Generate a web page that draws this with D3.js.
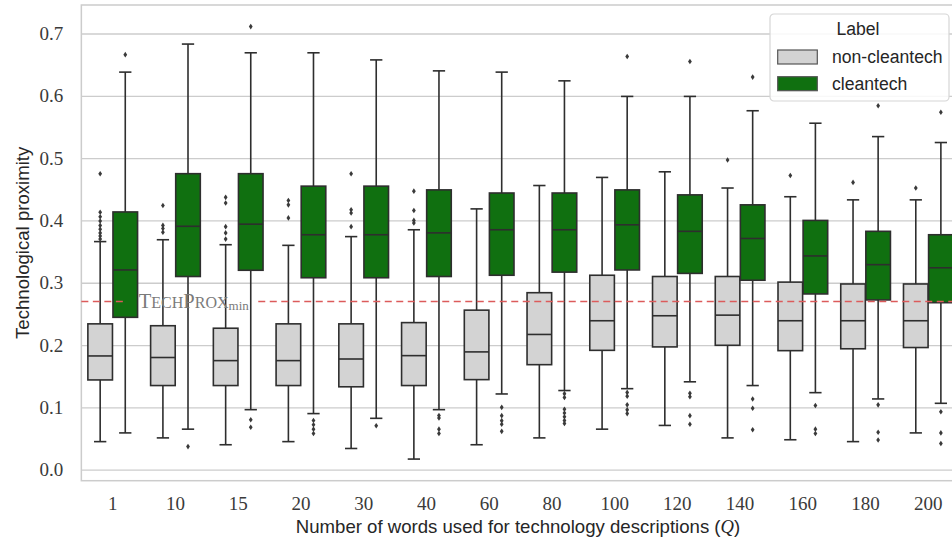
<!DOCTYPE html>
<html>
<head>
<meta charset="utf-8">
<script src="https://cdn.jsdelivr.net/npm/d3@7"></script>
<style>
  body { margin: 0; background: #fff; }
  svg { display: block; }
  .axis text { font-family: "Liberation Serif", serif; font-size: 19px; fill: #3a3a3a; }
  .axis-label { font-family: "Liberation Sans", sans-serif; font-size: 18.6px; fill: #262626; }
  .legend text { font-family: "Liberation Sans", sans-serif; font-size: 17.6px; fill: #262626; }
</style>
</head>
<body>
<svg id="chart"></svg>
<script>
// categories (number of words Q) and hue labels
const categories = ["1", "10", "15", "20", "30", "40", "60", "80", "100", "120", "140", "160", "180", "200"];
const labels = ["non-cleantech", "cleantech"];
const yTicks = [0.0, 0.1, 0.2, 0.3, 0.4, 0.5, 0.6, 0.7];
const techProxMin = 0.27;

// non-cleantech boxes
const grayWhiskLow  = [0.045, 0.051, 0.040, 0.045, 0.034, 0.017, 0.040, 0.051, 0.065, 0.071, 0.051, 0.048, 0.045, 0.059];
const grayQ1        = [0.144, 0.135, 0.135, 0.135, 0.133, 0.135, 0.1445, 0.1685, 0.1915, 0.197, 0.1996, 0.191, 0.194, 0.196];
const grayMedian    = [0.1825, 0.180, 0.175, 0.175, 0.1776, 0.183, 0.189, 0.217, 0.239, 0.247, 0.248, 0.239, 0.239, 0.239];
const grayQ3        = [0.234, 0.231, 0.227, 0.234, 0.234, 0.236, 0.256, 0.284, 0.312, 0.310, 0.310, 0.301, 0.298, 0.298];
const grayWhiskHigh = [0.366, 0.369, 0.361, 0.360, 0.374, 0.385, 0.4185, 0.456, 0.469, 0.478, 0.452, 0.438, 0.433, 0.433];
const grayOutliers  = [
  [0.475, 0.413, 0.406, 0.399, 0.392, 0.386, 0.380, 0.375, 0.370],
  [0.424, 0.392, 0.387, 0.381],
  [0.437, 0.428, 0.390, 0.380, 0.370],
  [0.432, 0.425, 0.404],
  [0.475, 0.417, 0.412, 0.390],
  [0.447, 0.416, 0.400, 0.396],
  [], [], [], [],
  [0.497],
  [0.472],
  [0.461],
  [0.452]
];

// cleantech boxes
const greenWhiskLow  = [0.059, 0.065, 0.0963, 0.090, 0.0824, 0.0963, 0.1215, 0.127, 0.130, 0.141, 0.135, 0.1236, 0.1135, 0.1065];
const greenQ1        = [0.2445, 0.310, 0.320, 0.308, 0.308, 0.310, 0.312, 0.317, 0.3205, 0.315, 0.304, 0.282, 0.2724, 0.268];
const greenMedian    = [0.3205, 0.3906, 0.394, 0.377, 0.377, 0.380, 0.385, 0.385, 0.393, 0.3825, 0.371, 0.343, 0.329, 0.324];
const greenQ3        = [0.4136, 0.475, 0.475, 0.455, 0.455, 0.449, 0.444, 0.444, 0.449, 0.441, 0.425, 0.400, 0.3825, 0.377];
const greenWhiskHigh = [0.638, 0.683, 0.669, 0.669, 0.6576, 0.640, 0.638, 0.624, 0.599, 0.599, 0.576, 0.556, 0.5345, 0.525];
const greenOutliers  = [
  [0.666],
  [0.037],
  [0.711, 0.080, 0.068],
  [0.079, 0.072, 0.065, 0.058],
  [0.0706],
  [0.087, 0.083, 0.065, 0.058],
  [0.100, 0.0867, 0.0787, 0.073, 0.0615],
  [0.122, 0.116, 0.097, 0.091, 0.085, 0.079, 0.074],
  [0.663, 0.124, 0.118, 0.104, 0.096, 0.090],
  [0.655, 0.1225, 0.117, 0.0867, 0.073],
  [0.630, 0.1135, 0.0985, 0.064],
  [0.103, 0.065, 0.058],
  [0.584, 0.104, 0.060, 0.0476],
  [0.5735, 0.093, 0.059, 0.042]
];

const colors = {"non-cleantech": "#d3d3d3", "cleantech": "#107010"};
const lineColor = "#2e2e2e";

class BoxPlot {
  constructor(_config, _data) {
    this.config = {
      parentElement: _config.parentElement,
      containerWidth: _config.containerWidth || 952,
      containerHeight: _config.containerHeight || 545,
      // axes run past the right edge of the picture (cropped figure)
      plot: _config.plot || {left: 81.35, top: 5, width: 878.35, height: 475.7}
    }
    this.data = _data;
    this.initVis();
  }

  initVis() {
    let vis = this;
    vis.width = vis.config.plot.width;
    vis.height = vis.config.plot.height;

    vis.xScale = d3.scaleBand()
      .domain(categories)
      .range([0, vis.width])
      .padding(0);

    let bw = vis.xScale.bandwidth();
    vis.hueScale = d3.scaleBand()
      .domain(labels)
      .range([-0.4 * bw, 0.4 * bw]);

    vis.yScale = d3.scaleLinear()
      .domain([-0.0177, 0.7457])
      .range([vis.height, 0]);

    vis.svg = d3.select(vis.config.parentElement)
      .attr("width", vis.config.containerWidth)
      .attr("height", vis.config.containerHeight);

    vis.chart = vis.svg.append("g")
      .attr("transform", `translate(${vis.config.plot.left},${vis.config.plot.top})`);

    // frame
    vis.chart.append("rect")
      .attr("width", vis.width)
      .attr("height", vis.height)
      .attr("fill", "none")
      .attr("stroke", "#cccccc")
      .attr("stroke-width", 1.5);

    vis.yAxis = d3.axisLeft(vis.yScale)
      .tickValues(yTicks)
      .tickFormat(d3.format(".1f"))
      .tickSize(-vis.width)
      .tickPadding(18);

    vis.xAxis = d3.axisBottom(vis.xScale)
      .tickSize(0)
      .tickPadding(16);

    vis.yAxisG = vis.chart.append("g").attr("class", "axis y-axis").call(vis.yAxis);
    vis.yAxisG.select(".domain").remove();
    vis.yAxisG.selectAll("line").attr("stroke", "#cccccc").attr("stroke-width", 1.3);

    vis.xAxisG = vis.chart.append("g")
      .attr("class", "axis x-axis")
      .attr("transform", `translate(0,${vis.height})`)
      .call(vis.xAxis);
    vis.xAxisG.select(".domain").remove();

    vis.svg.append("text")
      .attr("class", "axis-label")
      .attr("text-anchor", "middle")
      .attr("transform", `translate(28.5,${vis.config.plot.top + vis.height / 2}) rotate(-90)`)
      .text("Technological proximity");

    let xl = vis.svg.append("text")
      .attr("class", "axis-label")
      .attr("text-anchor", "middle")
      .attr("x", 518)
      .attr("y", 533);
    xl.append("tspan").text("Number of words used for technology descriptions (");
    xl.append("tspan").style("font-family", "'Liberation Serif', serif").style("font-style", "italic").text("Q");
    xl.append("tspan").text(")");

    vis.renderVis();
  }

  renderVis() {
    let vis = this;
    let boxW = vis.hueScale.bandwidth() * 0.98;
    let capW = boxW * 0.5;
    let cx = d => vis.xScale(d.cat) + vis.xScale.bandwidth() / 2 + vis.hueScale(d.label) + vis.hueScale.bandwidth() / 2;

    let boxes = vis.chart.selectAll(".box")
      .data(vis.data)
      .join("g")
      .attr("class", "box")
      .attr("transform", d => `translate(${cx(d)},0)`);

    boxes.append("line")
      .attr("y1", d => vis.yScale(d.whiskLow))
      .attr("y2", d => vis.yScale(d.whiskHigh));
    boxes.append("line")
      .attr("x1", -capW / 2).attr("x2", capW / 2)
      .attr("y1", d => vis.yScale(d.whiskLow))
      .attr("y2", d => vis.yScale(d.whiskLow));
    boxes.append("line")
      .attr("x1", -capW / 2).attr("x2", capW / 2)
      .attr("y1", d => vis.yScale(d.whiskHigh))
      .attr("y2", d => vis.yScale(d.whiskHigh));
    boxes.append("rect")
      .attr("x", -boxW / 2)
      .attr("width", boxW)
      .attr("y", d => vis.yScale(d.q3))
      .attr("height", d => vis.yScale(d.q1) - vis.yScale(d.q3))
      .attr("fill", d => colors[d.label]);
    boxes.append("line")
      .attr("x1", -boxW / 2).attr("x2", boxW / 2)
      .attr("y1", d => vis.yScale(d.median))
      .attr("y2", d => vis.yScale(d.median));
    boxes.selectAll("line, rect")
      .attr("stroke", lineColor)
      .attr("stroke-width", 1.6);

    boxes.selectAll(".flier")
      .data(d => d.outliers)
      .join("path")
      .attr("class", "flier")
      .attr("d", "M0,-2.8L1.9,0L0,2.8L-1.9,0Z")
      .attr("transform", v => `translate(0,${vis.yScale(v)})`)
      .attr("fill", "#3a3a3a");

    // TechProx_min reference line with label
    let ly = vis.yScale(techProxMin);
    let lx = vis.xScale(categories[0]) + vis.xScale.bandwidth() / 2 + 0.4 * vis.xScale.bandwidth() + 1;
    let lab = vis.chart.append("text")
      .attr("x", lx)
      .attr("y", ly + 6.5)
      .style("font-family", "'Liberation Serif', serif")
      .attr("fill", "#7a7a7a");
    lab.append("tspan").style("font-size", "20.5px").text("T");
    lab.append("tspan").style("font-size", "16px").text("ECH");
    lab.append("tspan").style("font-size", "20.5px").text("P");
    lab.append("tspan").style("font-size", "16px").text("ROX");
    lab.append("tspan").style("font-size", "13px").attr("dy", 2.5).text("min");
    let bb = lab.node().getBBox();

    [[0, bb.x - 14], [bb.x + bb.width + 9, vis.width]].forEach(seg => {
      vis.chart.append("line")
        .attr("x1", seg[0]).attr("x2", seg[1])
        .attr("y1", ly).attr("y2", ly)
        .attr("stroke", "#dc5b5b")
        .attr("stroke-width", 1.5)
        .attr("stroke-dasharray", "7,4.5");
    });

    vis.renderLegend();
  }

  renderLegend() {
    let vis = this;
    let lg = vis.svg.append("g").attr("class", "legend").attr("transform", "translate(770,14)");
    lg.append("rect")
      .attr("width", 179)
      .attr("height", 87)
      .attr("rx", 4)
      .attr("fill", "rgba(255,255,255,0.85)")
      .attr("stroke", "#d6d6d6")
      .attr("stroke-width", 1.2);
    lg.append("text")
      .attr("x", 88)
      .attr("y", 21)
      .attr("text-anchor", "middle")
      .text("Label");
    labels.forEach((l, i) => {
      lg.append("rect")
        .attr("x", 7.7)
        .attr("y", 36 + i * 26.7)
        .attr("width", 39.6)
        .attr("height", 14)
        .attr("fill", colors[l])
        .attr("stroke", "#555")
        .attr("stroke-width", 1.2);
      lg.append("text")
        .attr("x", 62)
        .attr("y", 49 + i * 26.7)
        .text(l);
    });
  }
}

let boxData = [];
categories.forEach((c, i) => {
  boxData.push({cat: c, label: "non-cleantech", whiskLow: grayWhiskLow[i], q1: grayQ1[i], median: grayMedian[i],
    q3: grayQ3[i], whiskHigh: grayWhiskHigh[i], outliers: grayOutliers[i]});
  boxData.push({cat: c, label: "cleantech", whiskLow: greenWhiskLow[i], q1: greenQ1[i], median: greenMedian[i],
    q3: greenQ3[i], whiskHigh: greenWhiskHigh[i], outliers: greenOutliers[i]});
});

new BoxPlot({parentElement: "#chart"}, boxData);
</script>
</body>
</html>
